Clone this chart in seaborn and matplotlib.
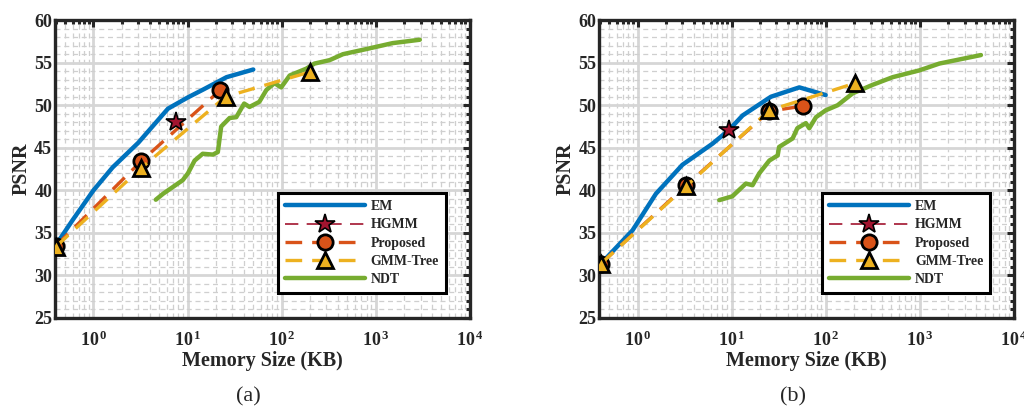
import numpy as np
import pandas as pd
import matplotlib
matplotlib.use("Agg")
import matplotlib.pyplot as plt
import seaborn as sns
from matplotlib.ticker import FixedLocator, MultipleLocator, LogLocator, FuncFormatter, NullFormatter

# ==========================================
# DATA
# ==========================================

# ---- panel (a)
a_em_x = [0.40, 0.60, 1.0, 1.6, 3.0, 6.2, 10, 15, 26, 50]
a_em_y = [33.6, 36.5, 40.0, 42.7, 45.6, 49.6, 50.9, 51.9, 53.3, 54.2]

a_hgmm_x = [7.6]
a_hgmm_y = [48.05]

a_prop_x = [0.40, 3.2, 22.4]
a_prop_y = [33.5, 43.4, 51.8]

a_tree_x = [0.40, 3.2, 25.4, 199]
a_tree_y = [33.4, 42.6, 51.0, 53.9]

a_ndt_x = [4.6, 5.5, 7.0, 8.9, 10.1, 11.9, 14.5, 18.6, 21, 22.8, 28, 33, 40, 45.6,
           58, 69, 84, 99, 122, 183, 224, 324, 449, 794, 1514, 2950]
a_ndt_y = [38.9, 39.6, 40.4, 41.2, 42.0, 43.5, 44.3, 44.2, 44.5, 47.5, 48.5, 48.6, 50.2, 49.8,
           50.4, 51.8, 52.6, 52.1, 53.5, 54.3, 54.9, 55.3, 56.0, 56.6, 57.3, 57.7]

# ---- panel (b)
b_em_x = [0.41, 0.885, 1.57, 3.0, 6.3, 9.4, 13.1, 26.2, 52.5, 100]
b_em_y = [31.4, 35.3, 39.6, 43.0, 45.5, 47.1, 48.8, 51.0, 52.1, 51.2]

b_hgmm_x = [9.4]
b_hgmm_y = [47.1]

b_prop_x = [0.41, 3.3, 25.2, 57]
b_prop_y = [31.4, 40.6, 49.3, 49.9]

b_tree_x = [0.41, 3.3, 25.2, 207]
b_tree_y = [31.4, 40.5, 49.4, 52.6]

b_ndt_x = [7.4, 10.2, 14.2, 16.7, 19.7, 25.2, 30.9, 32, 44.6, 50, 61.7, 67, 79, 100,
           134, 194, 316, 516, 993, 1620, 4480]
b_ndt_y = [38.85, 39.3, 40.8, 40.6, 42.0, 43.5, 44.1, 45.1, 46.1, 47.3, 47.9, 47.3, 48.6, 49.4,
           50.0, 51.4, 52.4, 53.3, 54.1, 54.9, 55.9]

y_ticks = [25, 30, 35, 40, 45, 50, 55, 60]
x_ticks = [1, 10, 100, 1000, 10000]

# ==========================================
# STYLE
# ==========================================

sns.set_style("white")

plt.rcParams["font.family"] = ["Liberation Serif", "DejaVu Serif"]
plt.rcParams["font.weight"] = "bold"
plt.rcParams["mathtext.fontset"] = "custom"
plt.rcParams["mathtext.rm"] = "Liberation Serif:bold"
plt.rcParams["mathtext.bf"] = "Liberation Serif:bold"
plt.rcParams["mathtext.it"] = "Liberation Serif:bold"

c_em = "#0072BD"
c_hgmm = "#A2142F"
c_prop = "#D95319"
c_tree = "#EDB120"
c_ndt = "#77AC30"
ink = "#262626"


def draw_panel(ax, em, hgmm, prop, tree, ndt):

    sns.lineplot(
        x=em[0], y=em[1], ax=ax, color=c_em, lw=3.2,
        sort=False, estimator=None, label="EM", zorder=3
    )

    sns.lineplot(
        x=hgmm[0], y=hgmm[1], ax=ax, color=c_hgmm, lw=1.2,
        linestyle=(0, (8, 5)), marker="*", markersize=15,
        markerfacecolor=c_hgmm, markeredgecolor="black", markeredgewidth=1.2,
        sort=False, estimator=None, label="HGMM", zorder=5
    )

    sns.lineplot(
        x=prop[0], y=prop[1], ax=ax, color=c_prop, lw=2.4,
        linestyle=(0, (5, 3)), marker="o", markersize=11,
        markerfacecolor=c_prop, markeredgecolor="black", markeredgewidth=2,
        sort=False, estimator=None, label="Proposed", zorder=4
    )

    sns.lineplot(
        x=tree[0], y=tree[1], ax=ax, color=c_tree, lw=2.4,
        linestyle=(0, (5, 3)), marker="^", markersize=12,
        markerfacecolor=c_tree, markeredgecolor="black", markeredgewidth=2,
        sort=False, estimator=None, label="GMM-Tree", zorder=4
    )

    sns.lineplot(
        x=ndt[0], y=ndt[1], ax=ax, color=c_ndt, lw=3.2,
        sort=False, estimator=None, label="NDT", zorder=2
    )

    ax.set_xscale("log")
    ax.set_xlim(0.39, 1e4)
    ax.set_ylim(25, 60)

    ax.xaxis.set_major_locator(FixedLocator(x_ticks))
    ax.xaxis.set_minor_locator(LogLocator(base=10, subs=np.arange(2, 10), numticks=20))
    ax.xaxis.set_major_formatter(FuncFormatter(lambda v, p: r"$\mathbf{10^{\,%d}}$" % round(np.log10(v))))
    ax.xaxis.set_minor_formatter(NullFormatter())
    ax.yaxis.set_major_locator(FixedLocator(y_ticks))
    ax.yaxis.set_minor_locator(MultipleLocator(1))

    ax.grid(which="major", color="#d6d6d6", lw=2.0, ls="-", zorder=0)
    ax.grid(which="minor", color="#cfcfcf", lw=0.9, ls=(0, (4, 3)), zorder=0)
    ax.set_axisbelow(True)

    ax.tick_params(which="both", direction="in", top=True, right=True,
                   colors=ink, labelsize=13, width=2.2)
    ax.tick_params(which="major", length=5)
    ax.tick_params(which="minor", length=3)
    ax.tick_params(axis="x", which="major", pad=9)
    ax.tick_params(axis="y", which="major", pad=2)
    for s in ax.spines.values():
        s.set_linewidth(2.4)
        s.set_color(ink)

    ax.set_xlabel("Memory Size (KB)", fontsize=14.5, fontweight="bold", color=ink, labelpad=1)
    ax.set_ylabel("PSNR", fontsize=14.5, fontweight="bold", color=ink, labelpad=2)

    leg = ax.legend(
        loc="lower right", bbox_to_anchor=(0.96, 0.06),
        fontsize=10, handlelength=5.8, handletextpad=0.4,
        labelspacing=0.38, borderpad=0.5, fancybox=False,
        framealpha=1, edgecolor="black"
    )
    leg.get_frame().set_linewidth(2.2)
    for t in leg.get_texts():
        t.set_fontweight("bold")
        t.set_color(ink)


fig = plt.figure(figsize=(10.24, 4.08), dpi=100)

ax_a = fig.add_axes([0.0537, 0.2206, 0.405, 0.730])
ax_b = fig.add_axes([0.585, 0.2206, 0.405, 0.730])

draw_panel(ax_a, (a_em_x, a_em_y), (a_hgmm_x, a_hgmm_y), (a_prop_x, a_prop_y),
           (a_tree_x, a_tree_y), (a_ndt_x, a_ndt_y))
draw_panel(ax_b, (b_em_x, b_em_y), (b_hgmm_x, b_hgmm_y), (b_prop_x, b_prop_y),
           (b_tree_x, b_tree_y), (b_ndt_x, b_ndt_y))

fig.text(0.243, 0.027, "(a)", fontsize=16, fontweight="normal", ha="center", va="center", color=ink)
fig.text(0.774, 0.027, "(b)", fontsize=16, fontweight="normal", ha="center", va="center", color=ink)

fig.savefig("out.png", dpi=100)
